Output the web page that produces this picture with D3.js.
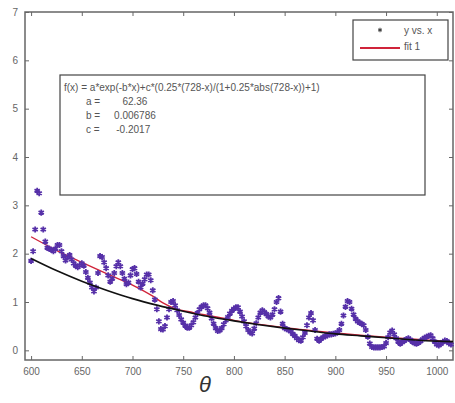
<!doctype html>
<html>
<head>
  <meta charset="UTF-8">
<style>
  body { margin: 0; background: #fff; }
  text { font-family: Arial, "Liberation Sans", sans-serif; }
</style>
<script src="https://d3js.org/d3.v7.min.js"></script>
</head>
<body>
<svg width="455" height="403"></svg>
<script>

// measured data: y vs. x, sampled every 2 units from 600
var thetaStart = 600, thetaStep = 2;
var yValues = [
  1.85, 2.05, 2.5, 3.3, 3.25, 2.85, 2.5, 2.25, 2.12, 2.1,
  2.08, 2.05, 2.1, 2.18, 2.18, 2.05, 1.95, 1.86, 1.92, 1.97,
  1.88, 1.8, 1.75, 1.72, 1.76, 1.8, 1.75, 1.62, 1.5, 1.4,
  1.3, 1.22, 1.3, 1.6, 1.95, 1.93, 1.82, 1.7, 1.55, 1.42,
  1.48, 1.6, 1.74, 1.82, 1.74, 1.6, 1.48, 1.37, 1.4, 1.55,
  1.68, 1.7, 1.58, 1.42, 1.3, 1.38, 1.47, 1.57, 1.57, 1.45,
  1.24, 1.05, 0.85, 0.6, 0.44, 0.43, 0.5, 0.68, 0.85, 1.0,
  1.02, 0.93, 0.83, 0.73, 0.64, 0.57, 0.51, 0.47, 0.47, 0.52,
  0.58, 0.68, 0.77, 0.85, 0.9, 0.93, 0.93, 0.87, 0.78, 0.66,
  0.55, 0.46, 0.4, 0.41, 0.46, 0.54, 0.62, 0.69, 0.76, 0.82,
  0.86, 0.89, 0.89, 0.8, 0.7, 0.6, 0.5, 0.42, 0.37, 0.35,
  0.45, 0.56, 0.68, 0.78, 0.83, 0.79, 0.75, 0.7, 0.68, 0.74,
  0.85, 1.0, 1.08, 0.8, 0.55, 0.46, 0.44, 0.42, 0.39, 0.34,
  0.3, 0.25, 0.21, 0.2, 0.27, 0.36, 0.52, 0.68, 0.77, 0.62,
  0.42, 0.24, 0.2, 0.24, 0.27, 0.29, 0.31, 0.33, 0.33, 0.34,
  0.35, 0.37, 0.42, 0.55, 0.72, 0.9, 1.02, 1.0, 0.86, 0.74,
  0.65, 0.6, 0.57, 0.55, 0.52, 0.42, 0.28, 0.14, 0.07, 0.06,
  0.06, 0.06, 0.06, 0.07, 0.08, 0.15, 0.27, 0.37, 0.41, 0.33,
  0.25, 0.18, 0.14, 0.17, 0.2, 0.23, 0.25, 0.22, 0.18, 0.15,
  0.14, 0.16, 0.19, 0.23, 0.26, 0.28, 0.3, 0.31, 0.25, 0.18,
  0.12, 0.1, 0.13, 0.17, 0.2, 0.19, 0.15, 0.12
];

// fit 1 (red)
var fitX = [600, 625, 650, 675, 700, 720, 730, 740, 760, 780, 800, 850, 900, 950, 1000, 1016];
var fitY = [2.35, 2.07, 1.82, 1.58, 1.35, 1.12, 0.98, 0.88, 0.78, 0.7, 0.62, 0.47, 0.36, 0.27, 0.2, 0.18];

// black reference curve
var curveX = [600, 625, 650, 675, 700, 725, 750, 775, 800, 825, 850, 875, 900, 925, 950, 975, 1000, 1016];
var curveY = [1.9, 1.65, 1.43, 1.24, 1.07, 0.93, 0.81, 0.7, 0.61, 0.53, 0.46, 0.4, 0.34, 0.3, 0.26, 0.22, 0.19, 0.18];

var xTicks = [600, 650, 700, 750, 800, 850, 900, 950, 1000];
var yTicks = [0, 1, 2, 3, 4, 5, 6, 7];

var fitLines = [
  "f(x) = a*exp(-b*x)+c*(0.25*(728-x)/(1+0.25*abs(728-x))+1)",
  "a =        62.36",
  "b =     0.006786",
  "c =      -0.2017"
];
var legendLabels = ["y vs. x", "fit 1"];

function drawChart() {
  var svg = d3.select("svg");
  var pLeft = 25, pRight = 453, pTop = 12, pBottom = 360;

  var x = d3.scaleLinear().domain([594, 1016]).range([pLeft, pRight]);
  var y = d3.scaleLinear().domain([-0.2, 7]).range([pBottom, pTop]);

  var data = yValues.map(function(v, i) { return {x: thetaStart + i * thetaStep, y: v}; });

  // axes (MATLAB-style box with inward ticks)
  svg.append("g")
    .attr("transform", "translate(0," + pBottom + ")")
    .call(d3.axisBottom(x).tickValues(xTicks).tickSize(-4).tickPadding(8).tickFormat(d3.format("d")))
    .call(function(g) { g.select(".domain").remove(); });
  svg.append("g")
    .attr("transform", "translate(0," + pTop + ")")
    .call(d3.axisTop(x).tickValues(xTicks).tickSize(-4).tickFormat(""))
    .call(function(g) { g.select(".domain").remove(); });
  svg.append("g")
    .attr("transform", "translate(" + pLeft + ",0)")
    .call(d3.axisLeft(y).tickValues(yTicks).tickSize(-4).tickPadding(7))
    .call(function(g) { g.select(".domain").remove(); });
  svg.append("g")
    .attr("transform", "translate(" + pRight + ",0)")
    .call(d3.axisRight(y).tickValues(yTicks).tickSize(-4).tickFormat(""))
    .call(function(g) { g.select(".domain").remove(); });

  svg.selectAll(".tick line").attr("stroke", "#666");
  svg.selectAll(".tick text").attr("fill", "#666").style("font-size", "10px");

  svg.append("rect")
    .attr("x", pLeft).attr("y", pTop)
    .attr("width", pRight - pLeft).attr("height", pBottom - pTop)
    .attr("fill", "none").attr("stroke", "#666").attr("stroke-width", 1.5);

  // fit text box
  var box = svg.append("g");
  box.append("rect")
    .attr("x", 60).attr("y", 75).attr("width", 365).attr("height", 120)
    .attr("fill", "#fff").attr("stroke", "#444").attr("stroke-width", 1.2);
  box.selectAll("text")
    .data(fitLines)
    .enter().append("text")
    .attr("x", function(d, i) { return i == 0 ? 64 : 86; })
    .attr("y", function(d, i) { return 91 + i * 14; })
    .attr("fill", "#555")
    .style("font-size", "10px")
    .style("white-space", "pre")
    .text(function(d) { return d; });

  var line = d3.line()
    .x(function(d) { return x(d[0]); })
    .y(function(d) { return y(d[1]); })
    .curve(d3.curveMonotoneX);

  // red fit
  svg.append("path")
    .datum(d3.zip(fitX, fitY))
    .attr("d", line)
    .attr("fill", "none").attr("stroke", "#d0243a").attr("stroke-width", 1.4);

  // data markers
  var star = d3.symbol().type(d3.symbolAsterisk || d3.symbolCross).size(26);
  svg.append("g").selectAll("path")
    .data(data)
    .enter().append("path")
    .attr("transform", function(d) { return "translate(" + x(d.x) + "," + y(d.y) + ")"; })
    .attr("d", star)
    .attr("fill", "none")
    .attr("stroke", "#5630a8")
    .attr("stroke-width", 1.8);

  // black curve
  svg.append("path")
    .datum(d3.zip(curveX, curveY))
    .attr("d", line)
    .attr("fill", "none").attr("stroke", "#111").attr("stroke-width", 1.6);

  // legend
  var legend = svg.append("g");
  legend.append("rect")
    .attr("x", 353).attr("y", 20).attr("width", 95).attr("height", 40)
    .attr("fill", "#fff").attr("stroke", "#444").attr("stroke-width", 1.2);
  legend.append("path")
    .attr("transform", "translate(380,30)")
    .attr("d", d3.symbol().type(d3.symbolAsterisk || d3.symbolCross).size(14))
    .attr("fill", "none").attr("stroke", "#333").attr("stroke-width", 1);
  legend.append("line")
    .attr("x1", 360).attr("x2", 400).attr("y1", 48).attr("y2", 48)
    .attr("stroke", "#d0243a").attr("stroke-width", 2);
  legend.selectAll(".lab")
    .data(legendLabels)
    .enter().append("text")
    .attr("class", "lab")
    .attr("x", 404)
    .attr("y", function(d, i) { return 34 + i * 16; })
    .attr("fill", "#555")
    .style("font-size", "10px")
    .text(function(d) { return d; });

  // axis label
  svg.append("text")
    .attr("x", 205).attr("y", 392)
    .attr("text-anchor", "middle")
    .attr("fill", "#333")
    .style("font-size", "22px")
    .style("font-style", "italic")
    .text("θ");
}

drawChart();
</script>
</body>
</html>
